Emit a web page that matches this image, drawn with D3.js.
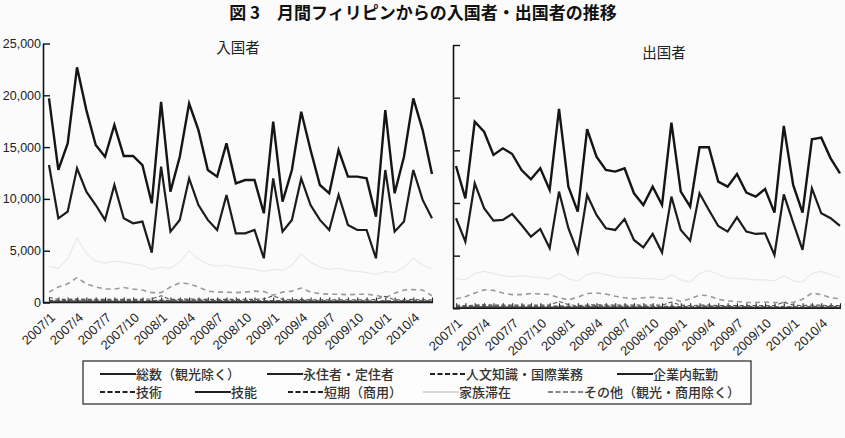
<!DOCTYPE html>
<html>
<head>
<meta charset="utf-8">
<script src="https://cdn.jsdelivr.net/npm/d3@7"></script>
<style>
  body { margin: 0; background: #fbfbfb; }
  svg { display: block; }
  .jp { font-family: "Noto Sans CJK JP", sans-serif; }
  .num { font-family: "Liberation Sans Narrow", "Liberation Sans", sans-serif; }
</style>
</head>
<body>
<svg id="chart" width="845" height="438"></svg>
<script>
// months 2007/1 - 2010/6
const months = ['2007/1','2007/2','2007/3','2007/4','2007/5','2007/6','2007/7','2007/8','2007/9','2007/10','2007/11','2007/12',
                '2008/1','2008/2','2008/3','2008/4','2008/5','2008/6','2008/7','2008/8','2008/9','2008/10','2008/11','2008/12',
                '2009/1','2009/2','2009/3','2009/4','2009/5','2009/6','2009/7','2009/8','2009/9','2009/10','2009/11','2009/12',
                '2010/1','2010/2','2010/3','2010/4','2010/5','2010/6'];
const tickLabels = ['2007/1','2007/4','2007/7','2007/10','2008/1','2008/4','2008/7','2008/10','2009/1','2009/4','2009/7','2009/10','2010/1','2010/4'];
const yTicks = [0, 5000, 10000, 15000, 20000, 25000];

// 入国者
const inTotal = [19700,12800,15350,22700,18570,15200,14070,17130,14140,14140,13270,9575,
                 19370,10700,14070,19200,16640,12790,12150,15360,11500,11820,11820,8610,
                 17450,9740,12790,18410,14720,11340,10540,14720,12150,12150,11980,8290,
                 18570,10540,14070,19700,16640,12400];
const inPerm = [13270,8130,8770,12950,10700,9410,7970,11340,8130,7650,7810,4820,
                13110,6840,7970,11980,9410,7970,7000,10380,6680,6680,7000,4270,
                11980,6840,7970,11980,9410,7970,7000,10380,7490,7000,7000,4270,
                12790,6840,7810,12790,9900,8130];
const inFamily = [3500,3300,4200,6200,4700,4000,3800,4000,3900,3700,3600,3200,
                  3400,3300,3900,5000,4200,3700,3500,3600,3400,3300,3200,3000,
                  3200,3100,3600,4700,3900,3400,3200,3300,3100,3000,2900,2700,
                  3000,2900,3400,4300,3600,3200];
const inOther = [1000,1500,1800,2400,1800,1500,1300,1300,1450,1300,1200,950,
                 950,1500,1900,1800,1500,1100,1000,1000,950,1000,1100,1050,
                 700,1000,1100,1400,1000,850,800,800,750,800,800,700,
                 450,900,1200,1250,1200,650];
const inJinbun = [500,300,300,350,300,300,300,300,300,300,300,350,
                  650,300,300,350,300,300,300,300,300,300,300,350,
                  650,300,250,300,250,250,250,250,250,250,250,300,
                  600,250,250,300,250,250];
const inKigyo = [150,120,130,160,140,130,120,130,120,120,110,100,
                 150,120,130,150,130,120,120,120,110,110,100,100,
                 130,100,110,130,110,100,100,100,100,90,90,80,
                 110,90,100,110,100,90];
const inGijutsu = [200,180,200,250,220,200,200,210,200,200,190,170,
                   220,190,210,240,220,200,200,200,190,180,170,160,
                   180,150,160,190,170,150,150,150,140,140,140,130,
                   160,130,150,170,150,140];
const inGino = [60,50,60,70,60,60,60,60,60,50,50,50,
                70,50,60,70,60,60,60,60,50,50,50,50,
                60,50,50,60,50,50,50,50,50,50,40,40,
                50,40,50,60,50,50];
const inTanki = [220,200,240,280,240,220,210,230,220,210,200,180,
                 240,200,230,260,230,210,200,210,190,190,180,170,
                 200,170,190,220,190,170,170,170,160,160,150,140,
                 180,150,170,200,170,160];

// 出国者
const outTotal = [13510,10440,17720,16770,14560,15190,14650,13130,12250,13290,11230,18930,
                  11550,9180,17000,14400,13130,12980,13290,10920,9810,11550,9810,17630,
                  11080,9650,15290,15290,12030,11550,12750,10980,10600,11330,9080,17310,
                  11710,9080,16050,16200,14240,12820];
const outPerm = [8550,6330,11870,9500,8320,8390,8960,7910,6800,7530,5700,11080,
                 7600,5290,10760,8860,7600,7440,8480,6490,5790,7060,5290,10600,
                 7440,6420,10920,9340,7820,7280,8640,7280,7060,7120,5060,10820,
                 8130,5540,11390,9020,8550,7820];
const outFamily = [2800,2700,3300,3500,3300,3100,3000,3100,3000,2900,2800,3300,
                   2800,2600,3200,3400,3200,3000,2900,2900,2800,2800,2700,3200,
                   2700,2500,3300,3600,3200,2900,2800,2800,2700,2700,2600,3100,
                   2600,2500,3300,3500,3200,2900];
const outOther = [900,1100,1450,1750,1700,1450,1300,1300,1400,1350,1300,1000,
                  800,1050,1400,1450,1350,1150,1000,900,1000,1050,950,950,
                  650,900,1250,1200,850,700,650,550,550,600,550,550,
                  550,850,1450,1300,1000,900];
const outJinbun = [300,250,300,350,300,300,300,300,300,300,300,650,
                   350,250,300,350,300,300,300,300,300,300,300,600,
                   300,250,300,300,250,250,250,250,250,250,250,600,
                   300,250,300,300,250,250];
const outKigyo = [120,100,140,150,130,130,120,120,110,110,110,130,
                  110,100,130,140,120,120,110,110,110,100,100,120,
                  90,90,110,120,100,100,90,90,90,90,90,100,
                  90,80,100,110,100,90];
const outGijutsu = [180,160,220,240,210,200,200,200,190,190,180,200,
                    180,160,210,230,210,200,190,190,180,170,170,190,
                    150,140,170,190,160,150,150,140,140,140,130,160,
                    130,120,160,170,150,140];
const outGino = [60,50,60,70,60,60,60,60,60,50,50,60,
                 50,40,60,70,60,60,50,50,50,50,50,60,
                 50,40,50,60,50,50,50,50,50,50,40,50,
                 40,40,50,60,50,50];
const outTanki = [200,180,240,260,230,220,210,210,200,200,190,230,
                  190,170,230,250,220,210,200,200,190,180,180,210,
                  170,160,200,220,190,170,170,160,160,160,150,190,
                  150,140,190,210,180,160];

const seriesNames = ['総数（観光除く）','永住者・定住者','人文知識・国際業務','企業内転勤','技術','技能','短期（商用）','家族滞在','その他（観光・商用除く）'];

// line styles, in the same order as seriesNames
const styles = [
  {stroke: '#151515', width: 2.4, dash: null},
  {stroke: '#1c1c1c', width: 2.2, dash: null},
  {stroke: '#555', width: 1.1, dash: '4,2.5'},
  {stroke: '#333', width: 1.0, dash: null},
  {stroke: '#666', width: 1.0, dash: '4,2.5'},
  {stroke: '#333', width: 1.0, dash: null},
  {stroke: '#555', width: 1.0, dash: '4,2.5'},
  {stroke: '#e8e8e8', width: 1.1, dash: null},
  {stroke: '#9a9a9a', width: 1.6, dash: '5,4'}
];

const inData = [inTotal, inPerm, inJinbun, inKigyo, inGijutsu, inGino, inTanki, inFamily, inOther];
const outData = [outTotal, outPerm, outJinbun, outKigyo, outGijutsu, outGino, outTanki, outFamily, outOther];
// drawing order: faint and small ones first, big solids last
const drawOrder = [7, 8, 6, 4, 2, 5, 3, 1, 0];

const svg = d3.select('#chart');

svg.append('text')
  .attr('class', 'jp')
  .attr('x', 423).attr('y', 19)
  .attr('text-anchor', 'middle')
  .attr('font-size', 17).attr('font-weight', 700)
  .attr('fill', '#111')
  .text('図 3　月間フィリピンからの入国者・出国者の推移');

function drawPanel(p, data) {
  var x = d3.scalePoint().domain(months).range([p.x0, p.x1]);
  var y = d3.scaleLinear().domain([0, 25000]).range([p.yb, p.yt]);
  var g = svg.append('g');

  // y axis, ticks pointing inward
  var yAxis = d3.axisLeft(y).tickValues(yTicks).tickSizeInner(-7).tickSizeOuter(0)
    .tickFormat(p.labels ? d3.format(',') : '');
  var ya = g.append('g').attr('transform', 'translate(' + p.ax + ',0)').call(yAxis);
  ya.select('.domain').attr('stroke', '#111').attr('stroke-width', 1.6);
  ya.selectAll('.tick line').attr('stroke', '#111').attr('stroke-width', 1.4);
  ya.selectAll('.tick text').attr('class', 'num').attr('x', -2)
    .attr('font-size', 12.5).attr('fill', '#222');

  // x axis with small monthly ticks pointing up
  var xAxis = d3.axisBottom(x).tickSizeInner(-5).tickSizeOuter(0).tickFormat('');
  var xa = g.append('g').attr('transform', 'translate(0,' + p.yb + ')').call(xAxis);
  xa.select('.domain').attr('d', 'M' + p.ax + ',0H' + (p.x1 + 1)).attr('stroke', '#111').attr('stroke-width', 1.6);
  xa.selectAll('.tick line').attr('stroke', '#222').attr('stroke-width', 1.1);

  // rotated labels every 3 months
  g.selectAll('.xl').data(tickLabels).enter().append('text')
    .attr('class', 'num')
    .attr('text-anchor', 'end')
    .attr('font-size', 13)
    .attr('fill', '#222')
    .attr('transform', function(d) { return 'translate(' + (x(d) + 7) + ',' + (p.yb + 16) + ') rotate(-43)'; })
    .text(function(d) { return d; });

  var line = d3.line().x(function(d, i) { return x(months[i]); }).y(function(d) { return y(d); });

  drawOrder.forEach(function(k) {
    g.append('path')
      .datum(data[k])
      .attr('d', line)
      .attr('fill', 'none')
      .attr('stroke', styles[k].stroke)
      .attr('stroke-width', styles[k].width)
      .attr('stroke-dasharray', styles[k].dash)
      .attr('stroke-linejoin', 'miter');
  });

  g.append('text')
    .attr('class', 'jp')
    .attr('x', p.tx).attr('y', p.ty)
    .attr('text-anchor', 'middle')
    .attr('font-size', 14.5)
    .attr('fill', '#222')
    .text(p.title);
}

drawPanel({x0: 49, x1: 432, ax: 43, yb: 302.5, yt: 43.5, labels: true, title: '入国者', tx: 238, ty: 53}, inData);
drawPanel({x0: 456, x1: 840, ax: 453, yb: 308.3, yt: 45, labels: false, title: '出国者', tx: 664, ty: 58}, outData);

// legend
const legendPos = [
  {x: 100, row: 0}, {x: 267, row: 0}, {x: 430, row: 0}, {x: 617, row: 0},
  {x: 100, row: 1}, {x: 195, row: 1}, {x: 288, row: 1}, {x: 423, row: 1}, {x: 548, row: 1}
];
const lg = svg.append('g');
lg.append('rect')
  .attr('x', 83).attr('y', 361).attr('width', 668).attr('height', 43)
  .attr('fill', '#fdfdfd').attr('stroke', '#333').attr('stroke-width', 1.3);

seriesNames.forEach(function(name, i) {
  var lp = legendPos[i];
  var yy = 374 + lp.row * 18;
  lg.append('line')
    .attr('x1', lp.x).attr('x2', lp.x + 36)
    .attr('y1', yy).attr('y2', yy)
    .attr('stroke', i === 7 ? '#b8b8b8' : (i === 8 ? '#888' : '#222'))
    .attr('stroke-width', i === 7 ? 1.2 : 1.8)
    .attr('stroke-dasharray', styles[i].dash ? '5,2.5' : null);
  lg.append('text')
    .attr('class', 'jp')
    .attr('x', lp.x + 36).attr('y', yy + 4.5)
    .attr('font-size', 13).attr('font-weight', 500)
    .attr('fill', '#333')
    .text(name);
});
</script>
</body>
</html>
